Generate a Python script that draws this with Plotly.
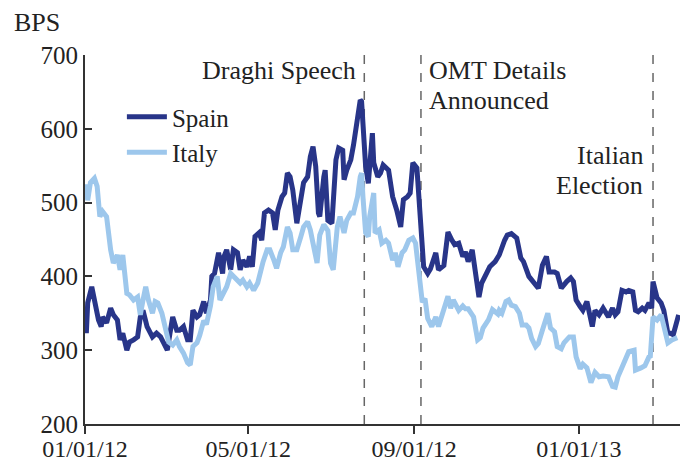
import plotly.graph_objects as go

spain_dates = [
    "2012-01-02","2012-01-03","2012-01-06","2012-01-08","2012-01-11","2012-01-13","2012-01-14","2012-01-17",
    "2012-01-20","2012-01-22","2012-01-25","2012-01-27","2012-01-29","2012-02-01","2012-02-03","2012-02-06",
    "2012-02-09","2012-02-11","2012-02-13","2012-02-16","2012-02-18","2012-02-20","2012-02-23","2012-02-26",
    "2012-02-28","2012-03-02","2012-03-04","2012-03-06","2012-03-09","2012-03-11","2012-03-14","2012-03-17",
    "2012-03-19","2012-03-21","2012-03-24","2012-03-26","2012-03-29","2012-03-31","2012-04-03","2012-04-04",
    "2012-04-06","2012-04-09","2012-04-12","2012-04-13","2012-04-15","2012-04-18","2012-04-20","2012-04-23",
    "2012-04-25","2012-04-27","2012-04-30","2012-05-02","2012-05-04","2012-05-06","2012-05-09","2012-05-11",
    "2012-05-13","2012-05-16","2012-05-19","2012-05-21","2012-05-23","2012-05-26","2012-05-28","2012-05-30",
    "2012-06-01","2012-06-03","2012-06-06","2012-06-09","2012-06-11","2012-06-14","2012-06-16","2012-06-18",
    "2012-06-20","2012-06-22","2012-06-23","2012-06-26","2012-06-27","2012-06-29","2012-07-02","2012-07-05",
    "2012-07-07","2012-07-10","2012-07-11","2012-07-13","2012-07-16","2012-07-18","2012-07-21","2012-07-23",
    "2012-07-24","2012-07-27","2012-07-29","2012-08-01","2012-08-02","2012-08-05","2012-08-07","2012-08-09",
    "2012-08-13","2012-08-16","2012-08-19","2012-08-22","2012-08-24","2012-08-27","2012-08-29","2012-08-31",
    "2012-09-03","2012-09-06","2012-09-08","2012-09-11","2012-09-13","2012-09-17","2012-09-19","2012-09-23",
    "2012-09-26","2012-09-29","2012-10-01","2012-10-04","2012-10-07","2012-10-09","2012-10-11","2012-10-14",
    "2012-10-16","2012-10-19","2012-10-21","2012-10-24","2012-10-27","2012-10-31","2012-11-03","2012-11-07",
    "2012-11-09","2012-11-12","2012-11-16","2012-11-19","2012-11-21","2012-11-25","2012-11-29","2012-12-02",
    "2012-12-05","2012-12-08","2012-12-10","2012-12-14","2012-12-16","2012-12-19","2012-12-23","2012-12-26",
    "2012-12-28","2012-12-30","2013-01-02","2013-01-04","2013-01-07","2013-01-10","2013-01-11","2013-01-13",
    "2013-01-16","2013-01-19","2013-01-21","2013-01-23","2013-01-26","2013-01-28","2013-01-30","2013-02-02",
    "2013-02-05","2013-02-07","2013-02-10","2013-02-12","2013-02-14","2013-02-17","2013-02-19","2013-02-22",
    "2013-02-24","2013-02-25","2013-02-28","2013-03-03","2013-03-05","2013-03-08","2013-03-10","2013-03-12",
    "2013-03-16",
]
spain_bps = [
    323,364,386,368,341,332,345,337,
    357,348,341,314,323,300,311,314,
    318,345,354,332,323,318,323,318,
    311,300,323,345,327,327,332,314,
    314,354,345,348,366,350,368,400,
    404,432,404,427,436,409,436,432,
    409,422,413,427,413,454,459,449,
    486,490,486,463,490,508,513,540,
    535,517,472,504,527,535,562,576,
    549,486,481,535,544,476,472,558,
    574,571,531,544,558,578,612,639,
    637,549,526,594,554,535,540,551,
    544,508,490,467,504,508,513,554,
    547,476,413,404,410,432,409,415,
    460,449,443,445,427,433,420,436,
    409,372,391,402,413,420,429,449,
    456,458,452,425,420,400,391,384,
    415,427,406,406,404,384,393,398,
    393,368,359,354,366,341,332,354,
    348,357,350,345,357,348,352,381,
    379,381,379,354,352,357,354,364,
    357,393,371,364,354,323,323,321,
    348,
]

italy_dates = [
    "2012-01-02","2012-01-03","2012-01-05","2012-01-08","2012-01-10","2012-01-12","2012-01-14","2012-01-17",
    "2012-01-20","2012-01-22","2012-01-25","2012-01-27","2012-01-29","2012-02-01","2012-02-03","2012-02-06",
    "2012-02-09","2012-02-11","2012-02-13","2012-02-15","2012-02-17","2012-02-20","2012-02-22","2012-02-24",
    "2012-02-27","2012-02-29","2012-03-03","2012-03-06","2012-03-09","2012-03-11","2012-03-14","2012-03-17",
    "2012-03-19","2012-03-21","2012-03-24","2012-03-26","2012-03-29","2012-03-31","2012-04-03","2012-04-05",
    "2012-04-08","2012-04-10","2012-04-13","2012-04-15","2012-04-18","2012-04-20","2012-04-23","2012-04-25",
    "2012-04-27","2012-04-30","2012-05-02","2012-05-05","2012-05-08","2012-05-10","2012-05-12","2012-05-15",
    "2012-05-17","2012-05-20","2012-05-22","2012-05-25","2012-05-27","2012-05-30","2012-06-01","2012-06-03",
    "2012-06-06","2012-06-09","2012-06-11","2012-06-14","2012-06-16","2012-06-18","2012-06-21","2012-06-23",
    "2012-06-26","2012-06-29","2012-07-01","2012-07-03","2012-07-06","2012-07-08","2012-07-11","2012-07-13",
    "2012-07-16","2012-07-18","2012-07-21","2012-07-23","2012-07-24","2012-07-25","2012-07-27","2012-07-29",
    "2012-07-30","2012-08-02","2012-08-03","2012-08-06","2012-08-08","2012-08-11","2012-08-13","2012-08-16",
    "2012-08-18","2012-08-20","2012-08-23","2012-08-25","2012-08-28","2012-08-31","2012-09-02","2012-09-04",
    "2012-09-06","2012-09-07","2012-09-09","2012-09-11","2012-09-14","2012-09-17","2012-09-19","2012-09-22",
    "2012-09-26","2012-09-28","2012-09-30","2012-10-04","2012-10-07","2012-10-09","2012-10-11","2012-10-15",
    "2012-10-18","2012-10-20","2012-10-22","2012-10-26","2012-10-29","2012-11-02","2012-11-03","2012-11-05",
    "2012-11-08","2012-11-10","2012-11-12","2012-11-15","2012-11-18","2012-11-20","2012-11-23","2012-11-25",
    "2012-11-27","2012-11-30","2012-12-02","2012-12-05","2012-12-07","2012-12-09","2012-12-11","2012-12-14",
    "2012-12-16","2012-12-19","2012-12-21","2012-12-25","2012-12-28","2012-12-30","2013-01-02","2013-01-04",
    "2013-01-07","2013-01-10","2013-01-13","2013-01-16","2013-01-19","2013-01-23","2013-01-26","2013-01-28",
    "2013-01-30","2013-02-02","2013-02-05","2013-02-07","2013-02-11","2013-02-12","2013-02-16","2013-02-19",
    "2013-02-22","2013-02-23","2013-02-25","2013-02-28","2013-03-03","2013-03-05","2013-03-08","2013-03-11",
    "2013-03-15",
]
italy_bps = [
    525,503,527,533,522,481,488,481,
    436,418,429,409,429,377,375,368,
    372,348,368,386,368,350,366,364,
    350,332,311,307,314,305,296,283,
    280,305,310,320,340,335,360,386,
    400,368,381,386,404,400,395,391,
    395,386,391,381,391,409,420,436,
    436,422,411,432,440,467,459,436,
    436,454,467,474,463,445,418,456,
    470,462,418,409,467,481,459,476,
    486,486,508,535,540,508,459,454,
    481,513,459,463,445,449,445,422,
    432,413,432,436,449,452,445,413,
    386,365,370,343,332,345,332,348,
    373,357,368,354,360,356,356,345,
    314,317,330,341,355,349,354,350,
    366,368,361,359,350,334,334,330,
    316,305,309,327,337,350,330,325,
    305,302,310,318,318,291,275,281,
    276,256,270,264,265,264,251,250,
    264,278,291,298,300,273,276,279,
    291,292,345,341,348,330,310,314,
    317,
]

event_dates = ["2012-07-26", "2012-09-06", "2013-02-25"]
tick_dates = ["2012-01-01", "2012-05-01", "2012-09-01", "2013-01-01"]
tick_labels = ["01/01/12", "05/01/12", "09/01/12", "01/01/13"]
y_ticks = [200, 300, 400, 500, 600, 700]

FONT = "Liberation Serif, Times New Roman, serif"
AX = "#333333"
TXT = "#222222"

fig = go.Figure()
fig.add_trace(go.Scatter(x=spain_dates, y=spain_bps, mode="lines", name="Spain",
                         line=dict(color="#283589", width=5)))
fig.add_trace(go.Scatter(x=italy_dates, y=italy_bps, mode="lines", name="Italy",
                         line=dict(color="#9DC7EC", width=5)))

for d in event_dates:
    fig.add_shape(type="line", xref="x", yref="paper", x0=d, x1=d, y0=0, y1=1,
                  line=dict(color="#666666", width=1.5, dash="dash"), layer="below")

ann = [
    dict(x=event_dates[0], y=0.958, text="Draghi Speech", xanchor="right", xshift=-6),
    dict(x=event_dates[1], y=0.958, text="OMT Details", xanchor="left", xshift=6),
    dict(x=event_dates[1], y=0.877, text="Announced", xanchor="left", xshift=6),
    dict(x=event_dates[2], y=0.728, text="Italian", xanchor="right", xshift=-8),
    dict(x=event_dates[2], y=0.647, text="Election", xanchor="right", xshift=-8),
]
for a in ann:
    fig.add_annotation(xref="x", yref="paper", yanchor="middle", showarrow=False,
                       font=dict(family=FONT, size=26, color=TXT), **a)

fig.add_annotation(xref="paper", yref="paper", x=-0.122, y=1.089, text="BPS",
                   xanchor="left", yanchor="middle", showarrow=False,
                   font=dict(family=FONT, size=26, color=TXT))

fig.update_layout(
    width=682, height=467,
    margin=dict(l=85, r=2, t=55, b=43),
    paper_bgcolor="white", plot_bgcolor="white",
    font=dict(family=FONT, size=24, color=TXT),
    showlegend=True,
    legend=dict(x=0.062, y=0.894, xanchor="left", yanchor="top",
                bgcolor="rgba(0,0,0,0)", font=dict(family=FONT, size=25, color=TXT),
                tracegroupgap=0, itemwidth=40),
    xaxis=dict(range=["2012-01-01", "2013-03-17"], tickvals=tick_dates, ticktext=tick_labels,
               showgrid=False, zeroline=False, showline=True, linecolor=AX, linewidth=2,
               ticks="outside", ticklen=8, tickwidth=1.5, tickcolor=AX, automargin=False,
               ticklabelstandoff=-6,
               tickfont=dict(family=FONT, size=24, color=TXT)),
    yaxis=dict(range=[200, 700], tickvals=y_ticks, showgrid=False, zeroline=False,
               showline=True, linecolor=AX, linewidth=2, automargin=False,
               ticks="inside", ticklen=7, tickwidth=1.5, tickcolor=AX,
               ticklabelstandoff=0,
               tickfont=dict(family=FONT, size=25, color=TXT)),
)

fig.write_html("out.html", config={"displayModeBar": False},
               post_script="document.body.style.margin='0';document.body.style.overflow='hidden';")
